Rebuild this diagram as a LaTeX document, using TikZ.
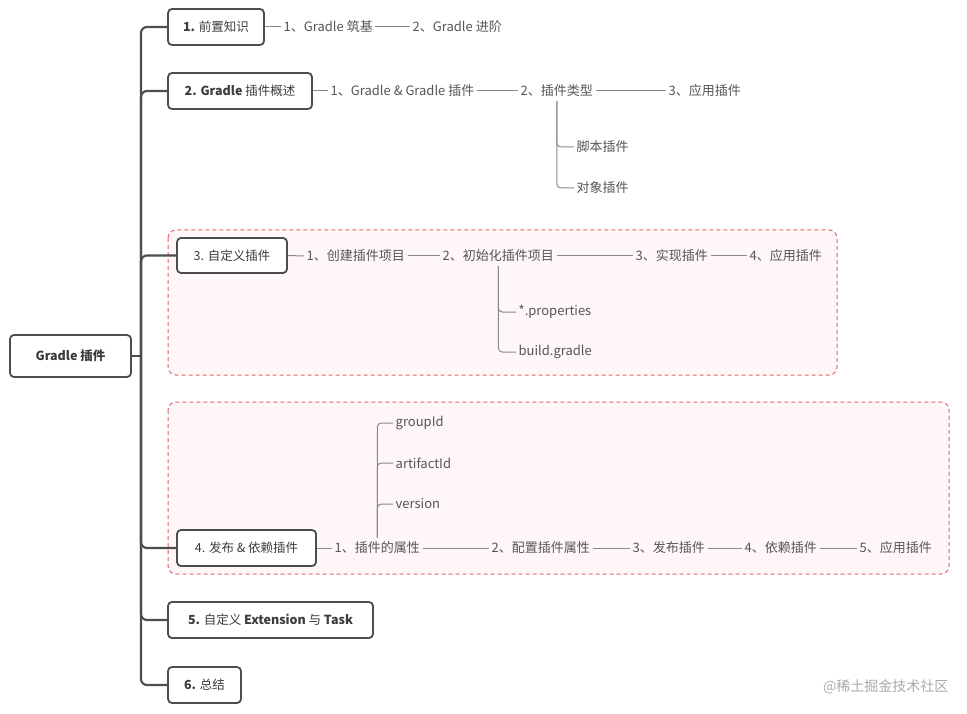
\documentclass[tikz,border=0pt]{standalone}
\usepackage{fontspec}
\setmainfont{Noto Sans CJK SC}
\definecolor{trunkc}{HTML}{4D4D4D}
\definecolor{textc}{HTML}{3C3C3C}
\definecolor{subc}{HTML}{555555}
\definecolor{linec}{HTML}{8A8A8A}
\definecolor{regc}{HTML}{E5646A}
\definecolor{regfill}{HTML}{FFF7F7}
\definecolor{wmc}{HTML}{AAAAAA}
\begin{document}
\begin{tikzpicture}[x=1pt,y=-1pt,
 trunk/.style={draw=trunkc,line width=2.2pt,rounded corners=6pt},
 topic/.style={draw=trunkc,line width=1.8pt,rounded corners=4pt,fill=white,text=textc,font=\fontsize{12.5}{14}\selectfont,inner sep=0pt,minimum height=36pt},
 sub/.style={text=subc,font=\fontsize{13}{15}\selectfont,anchor=west,inner xsep=2.5pt,inner ysep=1pt},
 link/.style={draw=linec,line width=1pt},
 branch/.style={draw=linec,line width=1pt,rounded corners=4pt},
 region/.style={draw=regc,dash pattern=on 4pt off 3pt,line width=1pt,fill=regfill,rounded corners=8pt}]
\useasboundingbox (0,0) rectangle (967,714);
\draw[region] (168,230) rectangle (837,375);
\draw[region] (168,402) rectangle (949,574);
% topics
\node[topic,minimum width=121pt,minimum height=42pt,font=\fontsize{12.5}{14}\selectfont\bfseries] (root) at (70.5,356) {Gradle 插件};
\node[topic,minimum width=96pt] (b1) at (216,27) {\textbf{1.} 前置知识};
\node[topic,minimum width=144pt] (b2) at (240,91) {\textbf{2. Gradle} 插件概述};
\node[topic,minimum width=110pt,minimum height=35pt] (b3) at (232,255.5) {3. 自定义插件};
\node[topic,minimum width=139pt] (b4) at (246.5,548) {4. 发布 \& 依赖插件};
\node[topic,minimum width=205pt] (b5) at (270.5,620) {\textbf{5.} 自定义 \textbf{Extension} 与 \textbf{Task}};
\node[topic,minimum width=73pt] (b6) at (204.5,685) {\textbf{6.} 总结};
\coordinate (tj) at (141,356);
\draw[trunk] (root.east) -- (tj);
\foreach \b in {b1,b2,b3,b4,b5,b6} {\draw[trunk] (tj) |- (\b.west);}
% row 1
\node[sub] (r1a) at (281,27) {1、Gradle 筑基};
\node[sub] (r1b) at (410,27) {2、Gradle 进阶};
\draw[link] (b1.east) -- (r1a.west);
\draw[link] (r1a.east) -- (r1b.west);
% row 2
\node[sub] (r2a) at (328,91) {1、Gradle \& Gradle 插件};
\node[sub] (r2b) at (518,91) {2、插件类型};
\node[sub] (r2c) at (666,91) {3、应用插件};
\draw[link] (b2.east) -- (r2a.west);
\draw[link] (r2a.east) -- (r2b.west);
\draw[link] (r2b.east) -- (r2c.west);
\node[sub] (c2a) at (574,147) {脚本插件};
\node[sub] (c2b) at (574,188) {对象插件};
\draw[branch] ([yshift=-3pt]r2b.south) |- (c2a.west);
\draw[branch] ([yshift=-3pt]r2b.south) |- (c2b.west);
% row 3
\node[sub] (r3a) at (304,256) {1、创建插件项目};
\node[sub] (r3b) at (440,256) {2、初始化插件项目};
\node[sub] (r3c) at (633,256) {3、实现插件};
\node[sub] (r3d) at (747,256) {4、应用插件};
\draw[link] (b3.east) -- (r3a.west);
\draw[link] (r3a.east) -- (r3b.west);
\draw[link] (r3b.east) -- (r3c.west);
\draw[link] (r3c.east) -- (r3d.west);
\node[sub] (c3a) at (516,312) {*.properties};
\node[sub] (c3b) at (516,352) {build.gradle};
\draw[branch] ([yshift=-3pt]r3b.south) |- (c3a.west);
\draw[branch] ([yshift=-3pt]r3b.south) |- (c3b.west);
% row 4
\node[sub] (r4a) at (332,548) {1、插件的属性};
\node[sub] (r4b) at (489,548) {2、配置插件属性};
\node[sub] (r4c) at (630,548) {3、发布插件};
\node[sub] (r4d) at (742,548) {4、依赖插件};
\node[sub] (r4e) at (857,548) {5、应用插件};
\draw[link] (b4.east) -- (r4a.west);
\draw[link] (r4a.east) -- (r4b.west);
\draw[link] (r4b.east) -- (r4c.west);
\draw[link] (r4c.east) -- (r4d.west);
\draw[link] (r4d.east) -- (r4e.west);
\node[sub] (c4a) at (393,423) {groupId};
\node[sub] (c4b) at (393,463) {artifactId};
\node[sub] (c4c) at (393,504) {version};
\draw[branch] ([yshift=3pt]r4a.north) |- (c4a.west);
\draw[branch] ([yshift=3pt]r4a.north) |- (c4b.west);
\draw[branch] ([yshift=3pt]r4a.north) |- (c4c.west);
% watermark
\node[text=wmc,font=\fontsize{14}{16}\selectfont,anchor=east] (wm) at (952,687) {@稀土掘金技术社区};
\end{tikzpicture}
\end{document}
